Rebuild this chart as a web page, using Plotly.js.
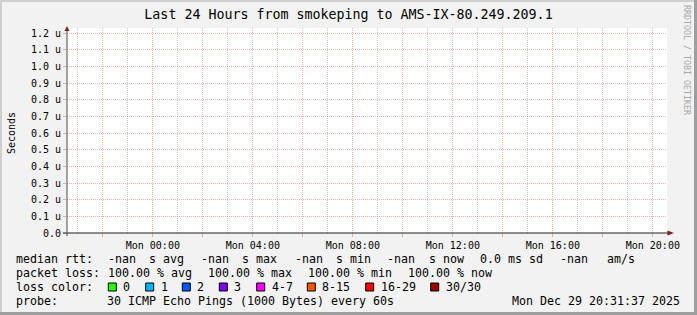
<!DOCTYPE html>
<html>
<head>
<meta charset="utf-8">
<script src="https://cdn.plot.ly/plotly-3.0.1.min.js"></script>
<style>html,body{margin:0;padding:0;background:#f2f2f2;}#chart{width:697px;height:315px;}</style>
</head>
<body>
<div id="chart"></div>
<script>
// ---- data ----
const chartTitle = 'Last 24 Hours from smokeping to AMS-IX-80.249.209.1';
const timeWindow = ['2025-12-28 20:34:00', '2025-12-29 20:34:00'];
const medianRtt = [null, null]; // no data (-nan)
const yTickVals = [0, 0.1e-6, 0.2e-6, 0.3e-6, 0.4e-6, 0.5e-6, 0.6e-6, 0.7e-6, 0.8e-6, 0.9e-6, 1.0e-6, 1.1e-6, 1.2e-6];
const yTickText = ['0.0', '0.1 u', '0.2 u', '0.3 u', '0.4 u', '0.5 u', '0.6 u', '0.7 u', '0.8 u', '0.9 u', '1.0 u', '1.1 u', '1.2 u'];
const yTitle = 'Seconds';
const medianValues = ['-nan', '-nan', '-nan', '-nan'];
const medianUnits = ['s avg', 's max', 's min', 's now'];
const sdText = '0.0 ms sd';
const amValue = '-nan';
const amUnit = 'am/s';
const lossValues = ['100.00', '100.00', '100.00', '100.00'];
const lossUnits = ['% avg', '% max', '% min', '% now'];
const lossLabels = ['0', '1', '2', '3', '4-7', '8-15', '16-29', '30/30'];
const lossColors = ['#26ff00', '#00b8ff', '#0059ff', '#7e00ff', '#ff00ff', '#ff5500', '#ff0000', '#a10000'];
const probeText = '30 ICMP Echo Pings (1000 Bytes) every 60s';
const dateText = 'Mon Dec 29 20:31:37 2025';
const watermark = 'RRDTOOL / TOBI OETIKER';

// ---- layout geometry ----
const L = 67, T = 28, W = 600, H = 205;
const px = v => (v - L) / W;
const py = v => (T + H - v) / H;
const MONO = 'DejaVu Sans Mono';
const GRID = 'rgba(143,143,143,0.5)';
const MGRID = 'rgba(222,79,79,0.45)';

const ann = [];
function txt(x, y, s, o) {
  o = o || {};
  ann.push({xref: 'paper', yref: 'paper', x: px(x), y: py(y), text: s, showarrow: false,
    xanchor: o.xanchor || 'left', yanchor: 'middle', borderpad: 0, borderwidth: 0,
    textangle: o.angle || 0,
    font: {family: MONO, size: o.size || 11.63, color: o.color || '#000'}});
}
const shapes = [];
function rect(x0, y0, x1, y1, fill, lineColor, lw) {
  shapes.push({type: 'rect', xref: 'paper', yref: 'paper', x0: px(x0), x1: px(x1), y0: py(y0), y1: py(y1),
    fillcolor: fill, line: {color: lineColor || fill, width: lw || 0}, layer: 'above'});
}
function line(x0, y0, x1, y1, color, w) {
  shapes.push({type: 'line', xref: 'paper', yref: 'paper', x0: px(x0), x1: px(x1), y0: py(y0), y1: py(y1),
    line: {color: color, width: w}, layer: 'above'});
}
function tri(pts, color) {
  const p = pts.map((q, i) => (i ? 'L' : 'M') + px(q[0]) + ',' + py(q[1])).join(' ') + ' Z';
  shapes.push({type: 'path', xref: 'paper', yref: 'paper', path: p, fillcolor: color, line: {color: color, width: 0}, layer: 'above'});
}

// frame shading
rect(0, 0, 697, 2, '#cfcfcf');
rect(0, 0, 2, 315, '#cfcfcf');
rect(694, 0, 697, 315, '#9e9e9e');
rect(0, 312, 697, 315, '#9e9e9e');

// axes + arrows
line(63, 233, 668, 233, '#1f1f1f', 1);
line(67, 236, 67, 30, '#4a4a4a', 1);
tri([[667.5, 230.5], [674, 233], [667.5, 235.5]], '#801f1f');
tri([[64.5, 31], [67, 26], [69.5, 31]], '#801f1f');

// y title and watermark
txt(11, 133, yTitle, {xanchor: 'center', angle: -90, size: 10});
txt(687, 60, watermark, {xanchor: 'center', angle: 90, size: 8.3, color: '#a8a8a8'});

// legend rows
const rowY = [259, 273, 287, 301];
txt(16, rowY[0], 'median rtt:');
const medValX = [108, 201, 294.5, 387], medUnitX = [149, 242, 335.5, 428.5];
medianValues.forEach((v, i) => { txt(medValX[i], rowY[0], v); txt(medUnitX[i], rowY[0], medianUnits[i]); });
txt(479.5, rowY[0], sdText);
txt(559.5, rowY[0], amValue);
txt(606.5, rowY[0], amUnit);

txt(16, rowY[1], 'packet loss:');
const lossX = [107.5, 207.5, 307.5, 407.5];
lossValues.forEach((v, i) => txt(lossX[i], rowY[1], v + ' ' + lossUnits[i]));

txt(16, rowY[2], 'loss color:');
const boxX = [108.3, 145.7, 182.3, 219.3, 256.7, 307.3, 365.7, 430.7];
lossLabels.forEach((lab, i) => {
  rect(boxX[i], 283, boxX[i] + 8, 291, lossColors[i], '#000', 1);
  txt(boxX[i] + 15, rowY[2], lab);
});

txt(16, rowY[3], 'probe:');
txt(107, rowY[3], probeText);
txt(680, rowY[3], dateText, {xanchor: 'right'});

const data = [{
  type: 'scatter', mode: 'lines', x: timeWindow, y: medianRtt,
  line: {color: '#000', width: 1}, hoverinfo: 'skip', showlegend: false
}];

const layout = {
  width: 697, height: 315,
  margin: {l: L, r: 697 - L - W, t: T, b: 315 - T - H, pad: 0},
  paper_bgcolor: '#f2f2f2', plot_bgcolor: '#ffffff',
  showlegend: false,
  title: {text: chartTitle, x: 0.5, xref: 'container', y: 1 - 14 / 315, yref: 'container', yanchor: 'middle',
    font: {family: MONO, size: 13.3, color: '#000'}},
  xaxis: {
    type: 'date', range: timeWindow, fixedrange: true,
    tick0: '2025-12-29 00:00:00', dtick: 7200000, ticklabelstep: 2, tickformat: '%a %H:%M',
    ticks: 'outside', ticklen: 3, tickcolor: MGRID, tickwidth: 1,
    showgrid: true, gridcolor: MGRID, griddash: '1px,1px', gridwidth: 1,
    minor: {dtick: 3600000, showgrid: true, gridcolor: GRID, griddash: '1px,1px', gridwidth: 1, ticks: ''},
    showline: false, zeroline: false,
    tickfont: {family: MONO, size: 10, color: '#000'}
  },
  yaxis: {
    range: [0, 1.2e-6 * H / 200], fixedrange: true,
    tickmode: 'array', tickvals: yTickVals, ticktext: yTickText,
    ticks: 'outside', ticklen: 3, tickcolor: MGRID, tickwidth: 1,
    showgrid: true, gridcolor: MGRID, griddash: '1px,1px', gridwidth: 1,
    showline: false, zeroline: false,
    tickfont: {family: MONO, size: 10, color: '#000'}
  },
  annotations: ann,
  shapes: shapes
};

Plotly.newPlot('chart', data, layout, {staticPlot: true, displayModeBar: false});
</script>
</body>
</html>
